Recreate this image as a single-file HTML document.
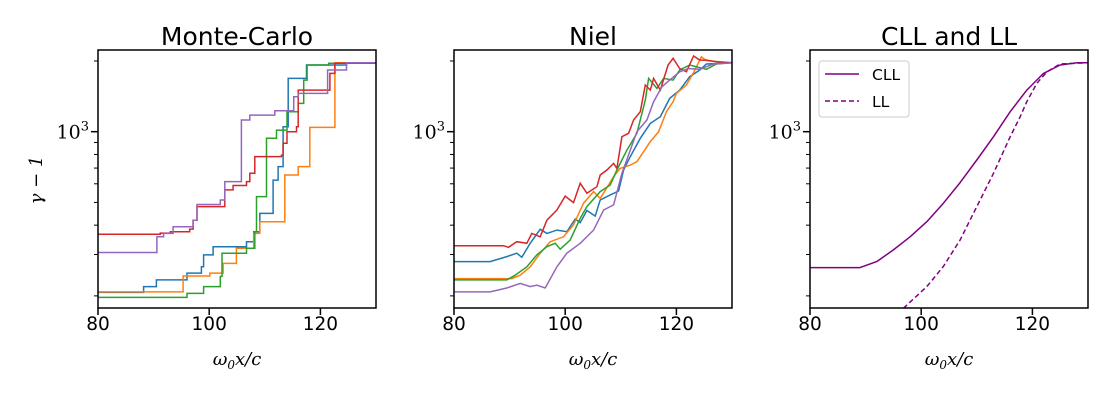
<!DOCTYPE html>
<html><head><meta charset="utf-8"><style>
body{margin:0;background:#fff}
svg{display:block}
text{font-family:"DejaVu Sans","Liberation Sans",sans-serif}
.math{font-family:"DejaVu Serif","Liberation Serif",serif;font-style:italic}
.up{font-family:"DejaVu Serif","Liberation Serif",serif;font-style:normal}
</style></head><body>
<svg id="chart" width="1120" height="400" xmlns="http://www.w3.org/2000/svg"></svg>
<script>
// ---- data ----
const colors = ["#1f77b4","#ff7f0e","#2ca02c","#d62728","#9467bd"];
const seriesNames = ["blue","orange","green","red","purple"];
const xTicks = [80,100,120];
const yMajorTicks = [1000];
const yMinorTicks = [200,300,400,500,600,700,800,900,2000];

// Monte-Carlo (step) series
const mcBlueX = [80,87,88.2,90.5,96,98.6,99,100.7,106.7,108,109.1,111.5,112.4,113.3,114.2,117.5,124.7,130];
const mcBlueV = [207,207,219,234,250,266,299,324,340,375,449,622,710,1050,1686,1922,1960,1960];
const mcOrangeX = [80,94.7,95.3,100.1,102.5,104.9,108,109.1,113.3,113.6,116,118.1,122.3,122.6,130];
const mcOrangeV = [208,208,243,250,275,319,369,414,414,654,710,1043,1043,1966,1966];
const mcGreenX = [80,92.3,96,99,102,102.3,106.7,108.2,108.5,110.3,112.1,114,116,117,117.6,121.5,130];
const mcGreenV = [197,197,205,219,242,304,319,375,529,937,1016,1216,1320,1658,1922,1954,1985];
const mcRedX = [80,91.2,93,96.5,97.1,97.8,102.8,104.3,106.7,107.3,108.2,113,113.3,114,115.7,116,121.7,122.6,130];
const mcRedV = [366,370,375,385,420,480,565,590,613,665,783,795,893,1000,1050,1503,1771,1954,1970];
const mcPurpleX = [80,90.3,90.6,91.8,93.5,97.1,97.8,102,102.8,105.8,107.3,111.8,115.2,116,121.3,124.7,130];
const mcPurpleV = [306,306,357,369,394,420,490,512,613,1121,1177,1228,1409,1455,1830,1966,1966];

// Niel series
const nielBlueX = [80,86.5,89.5,91.3,92.2,93.7,95.5,96.7,98.5,100.3,101.8,102.7,103.9,105.4,106.3,108.1,109.6,110.5,111.7,113.5,115.3,117.1,118.8,120.6,122.4,124.2,125.4,130];
const nielBlueV = [280,280,294,304,292,335,384,369,381,375,425,410,462,437,512,538,559,687,783,937,1085,1158,1386,1503,1714,1830,1941,1966];
const nielOrangeX = [80,90.4,91.9,93.7,95.5,97.3,99.7,101.5,103.3,105.1,106.3,108.7,109.9,111.7,112.9,114.1,115.3,116.8,118.2,119.4,120,121.8,123,124.5,125.4,130];
const nielOrangeV = [237,237,245,266,304,340,357,401,496,556,520,643,698,721,745,822,907,1000,1216,1342,1455,1580,1771,2083,2005,1966];
const nielGreenX = [80,89.5,91,93.1,94.9,96.7,98.2,99.1,100.9,102.7,103.9,106.3,108.1,109.3,111.1,112.9,114.4,115,116.5,117.7,119.4,120.6,122.4,125.4,127.2,130];
const nielGreenV = [234,234,245,266,299,324,335,316,346,428,480,556,593,687,835,984,1363,1686,1528,1686,1658,1830,1922,1843,1941,1966];
const nielRedX = [80,88.9,89.8,91.3,93.1,94,95.5,96.7,98.5,100,101.5,102.7,103.9,105.7,106.3,107.5,108.7,109.3,110.2,111.4,112.3,113.5,114.4,115.3,115.9,117.1,118.5,119.4,120.6,121.8,123.1,124.2,125.4,127.2,130];
const nielRedV = [327,327,322,340,335,369,357,420,464,532,499,603,547,583,654,687,733,698,952,984,1121,1216,1580,1503,1686,1503,1922,2052,1855,1799,2099,2017,2017,1985,1966];
const nielPurpleX = [80,86.5,89.5,91.9,93.7,94.9,96.4,98.5,100.3,102.7,105.1,106.9,108.7,110.2,111.7,112.9,114.7,115.9,117.4,118.8,120.6,122.1,124.2,126.6,130];
const nielPurpleV = [208,208,216,226,219,222,216,266,304,335,381,464,488,665,835,1000,1121,1342,1553,1658,1799,1855,1843,1941,1966];

// CLL / LL
const cllX = [80,89,92,95,98,101,104,107,110,113,116,119,122,125,128,130];
const cllV = [264,264,280,314,357,414,496,607,758,952,1216,1503,1771,1922,1966,1966];
const llX = [96.8,101,104,107,110,113,116,117.8,119,120.8,122.6,125,130];
const llV = [177,219,267,346,480,665,952,1158,1342,1605,1799,1941,1966];

const mcSeries = [[mcBlueX,mcBlueV],[mcOrangeX,mcOrangeV],[mcGreenX,mcGreenV],[mcRedX,mcRedV],[mcPurpleX,mcPurpleV]];
const nielSeries = [[nielBlueX,nielBlueV],[nielOrangeX,nielOrangeV],[nielGreenX,nielGreenV],[nielRedX,nielRedV],[nielPurpleX,nielPurpleV]];

// ---- layout ----
const NS="http://www.w3.org/2000/svg";
const svg=document.getElementById('chart');
const panels=[{left:98,title:"Monte-Carlo",name:"monte-carlo"},{left:454,title:"Niel",name:"niel"},{left:810,title:"CLL and LL",name:"cll-ll"}];
const W=278, TOP=50, BOT=308;
const xMin=80,xMax=130;
const yLogMin=Math.log10(177.6), yLogMax=Math.log10(2227);
function sx(p,x){return p.left+(x-xMin)/(xMax-xMin)*W;}
function sy(v){return BOT-(Math.log10(v)-yLogMin)/(yLogMax-yLogMin)*(BOT-TOP);}
function el(tag,attrs,parent){const e=document.createElementNS(NS,tag);for(const k in attrs)e.setAttribute(k,attrs[k]);(parent||svg).appendChild(e);return e;}

panels.forEach((p,pi)=>{
  const g=el('g',{});
  
  
  const clipId='clip'+pi;
  const cp=el('clipPath',{id:clipId},g);
  el('rect',{x:p.left,y:TOP,width:W,height:BOT-TOP},cp);
  const t=el('text',{x:p.left+W/2,y:45,'text-anchor':'middle','font-size':'25'},g);
  t.textContent=p.title;
  
  
  xTicks.forEach(x=>{
    const X=sx(p,x);
    const tk=el('line',{x1:X,x2:X,y1:BOT,y2:BOT+7,stroke:'#000','stroke-width':1.5},g);
    
    
    const lb=el('text',{x:X,y:BOT+22,'text-anchor':'middle','font-size':'18.5'},g);
    lb.textContent=x;
    
    
  });
  yMajorTicks.forEach(v=>{
    const Y=sy(v);
    const tk=el('line',{x1:p.left-7,x2:p.left,y1:Y,y2:Y,stroke:'#000','stroke-width':1.5},g);
    
    
    const lb=el('text',{x:p.left-9,y:Y+7,'text-anchor':'end','font-size':'19',class:'up'},g);
    lb.innerHTML='10<tspan dy="-8" font-size="13">3</tspan>';
    
    
  });
  yMinorTicks.forEach(v=>{
    const Y=sy(v);
    const tk=el('line',{x1:p.left-4,x2:p.left,y1:Y,y2:Y,stroke:'#000','stroke-width':1},g);
    
    
  });
  const xl=el('text',{x:p.left+W/2,y:365,'text-anchor':'middle','font-size':'18',class:'math'},g);
  xl.innerHTML='ω<tspan dy="4" font-size="12">0</tspan><tspan dy="-4">x/c</tspan>';
  
  

  const lines=el('g',{'clip-path':'url(#'+clipId+')'},g);
  if(pi<2){
    const ser=pi===0?mcSeries:nielSeries;
    ser.forEach((s,si)=>{
      const [xs,vs]=s;let d='';
      for(let i=0;i<xs.length;i++){
        const X=sx(p,xs[i]).toFixed(1),Y=sy(vs[i]).toFixed(1);
        if(i===0)d+='M'+X+' '+Y;
        else if(pi===0)d+='H'+X+'V'+Y;
        else d+='L'+X+' '+Y;
      }
      const path=el('path',{d:d,fill:'none',stroke:colors[si],'stroke-width':1.5},lines);
      
      
    });
  } else {
    [[cllX,cllV,''],[llX,llV,'5,3']].forEach((s,si)=>{
      const d=s[0].map((x,i)=>(i?'L':'M')+sx(p,x).toFixed(1)+' '+sy(s[1][i]).toFixed(1)).join('');
      const path=el('path',{d:d,fill:'none',stroke:'#800080','stroke-width':1.5,'stroke-dasharray':s[2]||'none','stroke-linejoin':'round'},lines);
      
      
    });
    const lg=el('g',{},g);
    
    
    el('rect',{x:819,y:61,width:90,height:56,rx:3,fill:'#fff',stroke:'#ccc','stroke-width':1},lg);
    [['CLL','none',74],['LL','5,3',101]].forEach(e=>{
      const ent=el('g',{},lg);
      
      
      el('line',{x1:825,x2:859,y1:e[2],y2:e[2],stroke:'#800080','stroke-width':1.5,'stroke-dasharray':e[1]},ent);
      const tx=el('text',{x:872,y:e[2]+6,'font-size':'15.5'},ent);
      tx.textContent=e[0];
    });
  }
  const fr=el('rect',{x:p.left,y:TOP,width:W,height:BOT-TOP,fill:'none',stroke:'#000','stroke-width':1.5},g);
  
  
});
const yl=el('text',{x:0,y:0,'text-anchor':'middle','font-size':'18',class:'math',transform:'translate(42,180) rotate(-90)'});
yl.textContent='γ − 1';


</script>
</body></html>
